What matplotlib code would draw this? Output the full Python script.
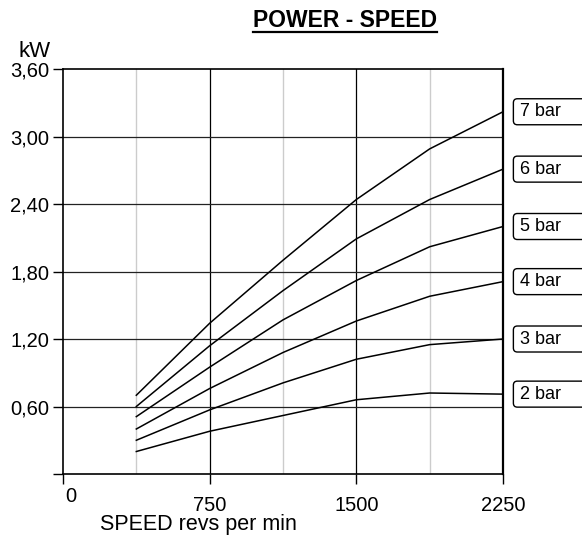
import matplotlib.pyplot as plt
from matplotlib.ticker import FuncFormatter
from matplotlib.lines import Line2D
from matplotlib.patches import FancyBboxPatch
from matplotlib.transforms import ScaledTranslation, IdentityTransform

plt.rcParams['font.family'] = ['Liberation Sans', 'DejaVu Sans']

# speed (rev/min) and power (kW) per pressure
speed = [375, 750, 1125, 1500, 1875, 2250]
power = {
    "7 bar": [0.70, 1.34, 1.90, 2.44, 2.89, 3.22],
    "6 bar": [0.60, 1.14, 1.63, 2.09, 2.44, 2.71],
    "5 bar": [0.51, 0.95, 1.37, 1.72, 2.02, 2.20],
    "4 bar": [0.40, 0.76, 1.08, 1.36, 1.58, 1.71],
    "3 bar": [0.30, 0.57, 0.81, 1.02, 1.15, 1.20],
    "2 bar": [0.20, 0.38, 0.52, 0.66, 0.72, 0.71],
}
x_ticks = [0, 750, 1500, 2250]
x_minor = [375, 1125, 1875]
y_ticks = [0, 0.6, 1.2, 1.8, 2.4, 3.0, 3.6]

fig = plt.figure(figsize=(5.82, 5.37), dpi=100)
ax = fig.add_axes([0.1082, 0.1173, 0.7561, 0.7542])

# grid
for xv in x_minor:
    ax.axvline(xv, color="#cccccc", lw=1.0, zorder=1)
for xv in x_ticks[1:-1]:
    ax.axvline(xv, color="black", lw=0.9, zorder=1)
for yv in y_ticks[1:-1]:
    ax.axhline(yv, color="#222222", lw=0.9, zorder=1)

labels = []
for label, vals in power.items():
    ax.plot(speed, vals, color="black", lw=1.1, zorder=3)
    t = ax.annotate(label, xy=(speed[-1], vals[-1]), xytext=(12.5, 0),
                    textcoords="offset points", ha="left", va="center", fontsize=13,
                    annotation_clip=False, zorder=6)
    labels.append(t)

ax.set_xlim(0, 2250)
ax.set_ylim(0, 3.6)
ax.set_xticks(x_ticks)
ax.set_yticks(y_ticks)
ax.yaxis.set_major_formatter(FuncFormatter(lambda v, p: "" if v == 0 else f"{v:.2f}".replace(".", ",")))
ax.tick_params(axis="both", direction="out", length=7, width=1, labelsize=14.5, color="black")
ax.tick_params(axis="x", pad=9)
ax.tick_params(axis="y", pad=3)
for s in ax.spines.values():
    s.set_linewidth(1.2)
ax.spines["right"].set_linewidth(1.6)

# the "0" label sits higher and to the right in the original
zero_lbl = ax.get_xticklabels()[0]
zero_lbl.set_transform(zero_lbl.get_transform() + ScaledTranslation(6 / 72, 7 / 72, fig.dpi_scale_trans))

fig.text(35 / 582, 1 - 57 / 537, "kW", ha="center", va="baseline", fontsize=16)
fig.text(100 / 582, 1 - 530 / 537, "SPEED revs per min", ha="left", va="baseline", fontsize=15.5)
title = fig.text(345 / 582, 1 - 27 / 537, "POWER - SPEED", ha="center", va="baseline",
                 fontsize=16.5, fontweight="bold")

fig.canvas.draw()
bb = title.get_window_extent().transformed(fig.transFigure.inverted())
uy = 1 - 31.5 / 537
fig.add_artist(Line2D([bb.x0, bb.x1], [uy, uy], color="black", lw=1.6, transform=fig.transFigure))

# label boxes run off the right edge, as in the original
for t in labels:
    ext = t.get_window_extent()
    cy = (ext.y0 + ext.y1) / 2
    box = FancyBboxPatch((ext.x0 - 7, cy - 13), 120, 26,
                         boxstyle="round,pad=0,rounding_size=4",
                         fc="white", ec="black", lw=1.0, transform=IdentityTransform(),
                         zorder=5, clip_on=False)
    ax.add_artist(box)

fig.savefig("out.png", dpi=100)
